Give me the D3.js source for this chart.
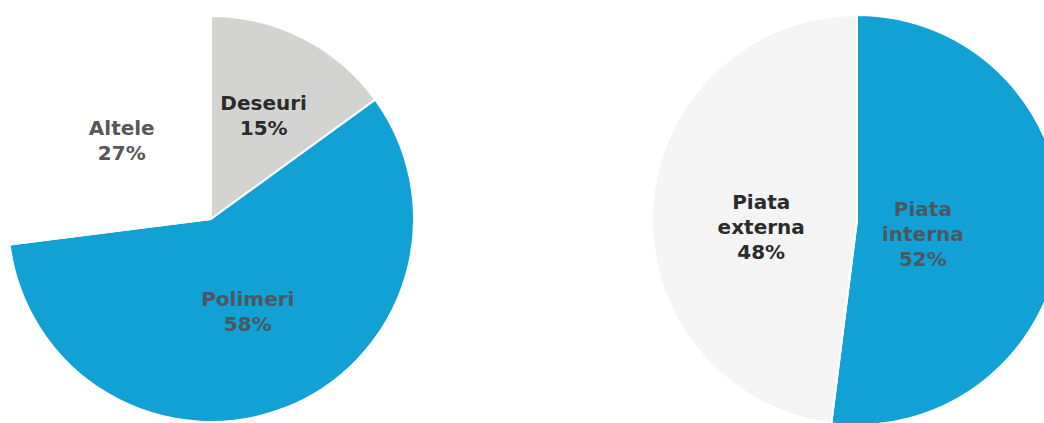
<!DOCTYPE html>
<html>
<head>
<meta charset="utf-8">
<script src="https://cdn.jsdelivr.net/npm/d3@7"></script>
<style>
  html, body { margin: 0; padding: 0; background: #fff; }
  svg { display: block; }
  text { font-family: "DejaVu Sans", Verdana, sans-serif; font-weight: bold; }
</style>
</head>
<body>
<svg id="chart" width="1044" height="423"></svg>
<script>
// ---- data ----
const leftCategories = ["Deseuri", "Polimeri", "Altele"];
const leftValues = [15, 58, 27];
const rightCategories = ["Piata interna", "Piata externa"];
const rightValues = [52, 48];

// ---- styles / layout ----
const colors = {
  "Deseuri": "#d3d4d2",
  "Polimeri": "#12a1d5",
  "Altele": "#ffffff",
  "Piata interna": "#12a1d5",
  "Piata externa": "#f3f4f3"
};
const textColors = {
  "Deseuri": "#2b2b2b",
  "Polimeri": "#4b5863",
  "Altele": "#575757",
  "Piata interna": "#4b5863",
  "Piata externa": "#2b2b2b"
};
const labelLayout = {
  "Deseuri": { r: 116, dy: 0 },
  "Polimeri": { r: 100, dy: 0 },
  "Altele": { r: 119, dy: 0 },
  "Piata interna": { r: 66, dy: 10 },
  "Piata externa": { r: 96, dy: 13 }
};

const svg = d3.select("#chart");

function drawPie(cats, vals, cx, cy, radius, startDeg) {
  const data = cats.map((c, i) => ({ name: c, value: vals[i] }));
  const start = startDeg * Math.PI / 180;
  const pie = d3.pie().value(d => d.value).sort(null)
    .startAngle(start).endAngle(start + 2 * Math.PI);
  const arcs = pie(data);
  const arc = d3.arc().innerRadius(0).outerRadius(radius);
  const g = svg.append("g").attr("transform", `translate(${cx},${cy})`);

  g.selectAll("path").data(arcs).enter().append("path")
    .attr("d", arc)
    .attr("fill", d => colors[d.data.name])
    .attr("stroke", "#ffffff")
    .attr("stroke-width", 2)
    .attr("stroke-linejoin", "round");

  const lineH = 25;
  arcs.forEach(a => {
    const name = a.data.name;
    const L = labelLayout[name];
    const c = d3.arc().innerRadius(L.r).outerRadius(L.r).centroid(a);
    const lines = name.split(" ").concat([a.data.value + "%"]);
    const n = lines.length;
    const t = g.append("text")
      .attr("text-anchor", "middle")
      .attr("font-size", 20)
      .attr("fill", textColors[name]);
    lines.forEach((ln, i) => {
      t.append("tspan")
        .attr("x", c[0])
        .attr("y", c[1] + L.dy + (i - (n - 1) / 2) * lineH + 7)
        .text(ln);
    });
  });
}

drawPie(leftCategories, leftValues, 211, 219, 203, 0);
drawPie(rightCategories, rightValues, 857, 220, 205, 0);
</script>
</body>
</html>
